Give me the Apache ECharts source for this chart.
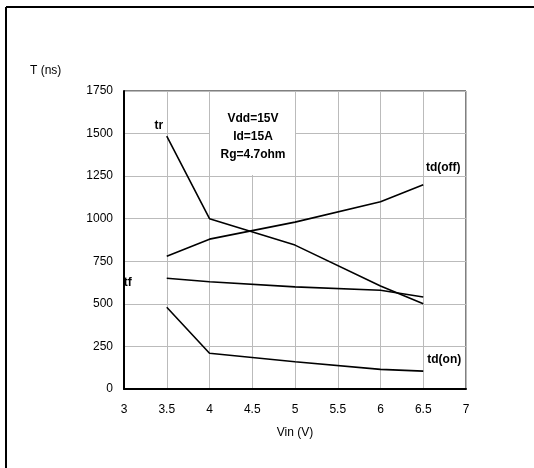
<!DOCTYPE html>
<html><head><meta charset="utf-8">
<script src="https://cdn.jsdelivr.net/npm/echarts@6/dist/echarts.min.js"></script>
<style>html,body{margin:0;padding:0;background:#fff}#c{width:534px;height:468px}</style>
</head><body><div id="c"></div>
<script>
const vin = [3.5, 4, 5, 6, 6.5];
const tr = [1485, 1000, 845, 605, 500];
const tdOff = [780, 880, 980, 1100, 1200];
const tf = [650, 630, 600, 580, 540];
const tdOn = [480, 210, 160, 115, 105];
const xTicks = [3, 7, 0.5];
const yTicks = [0, 1750, 250];
const note = ['Vdd=15V', 'Id=15A', 'Rg=4.7ohm'];

const font = 'Liberation Sans, Arial, sans-serif';
function mk(name, vals, labelIdx, pos, offset) {
  return {
    type: 'line', name: name, symbol: 'circle', symbolSize: 0, showSymbol: true, animation: false,
    lineStyle: {color: '#000', width: 1.6},
    itemStyle: {color: '#000'},
    data: vals.map((v, i) => {
      const d = {value: [vin[i], v]};
      if (i === labelIdx) {
        d.label = {show: true, formatter: name, position: pos, offset: offset,
          color: '#000', fontWeight: 'bold', fontSize: 12, fontFamily: font};
      }
      return d;
    })
  };
}
const chart = echarts.init(document.getElementById('c'));
chart.setOption({
  animation: false,
  grid: {left: 124, top: 91, right: 68, bottom: 79, show: true, borderColor: '#000', borderWidth: 1},
  xAxis: {type: 'value', min: xTicks[0], max: xTicks[1], interval: xTicks[2],
    axisLine: {show: true, lineStyle: {color: '#000', width: 2}},
    axisTick: {show: false},
    splitLine: {show: true, lineStyle: {color: '#bbb', width: 1}},
    axisLabel: {color: '#000', fontSize: 12, fontFamily: font, margin: 15},
    name: 'Vin (V)', nameLocation: 'middle', nameGap: 38,
    nameTextStyle: {color: '#000', fontSize: 12, fontFamily: font}},
  yAxis: {type: 'value', min: yTicks[0], max: yTicks[1], interval: yTicks[2],
    axisLine: {show: true, lineStyle: {color: '#000', width: 2}},
    axisTick: {show: false},
    splitLine: {show: true, lineStyle: {color: '#bbb', width: 1}},
    axisLabel: {color: '#000', fontSize: 12, fontFamily: font, margin: 11, formatter: v => String(v)}},
  graphic: [
    {type: 'line', shape: {x1: 6, y1: 7, x2: 534, y2: 7}, style: {stroke: '#000', lineWidth: 2}},
    {type: 'line', shape: {x1: 6, y1: 7, x2: 6, y2: 468}, style: {stroke: '#000', lineWidth: 2}},
    {type: 'text', left: 30, top: 65, style: {text: 'T (ns)', fill: '#000', font: '12px ' + font}},
    {type: 'rect', shape: {x: 210, y: 92, width: 85, height: 83}, style: {fill: '#fff'}, z: 10},
    {type: 'text', x: 253, y: 110, z: 11, style: {text: note.join('\n'), fill: '#000', font: 'bold 12px ' + font,
      textAlign: 'center', lineHeight: 18}}
  ],
  series: [
    mk('tr', tr, 0, 'top', [-8, 1]),
    mk('td(off)', tdOff, 4, 'top', [20, -6]),
    mk('tf', tf, 0, 'left', [-30, 4]),
    mk('td(on)', tdOn, 4, 'top', [21, 0])
  ]
});
</script></body></html>
